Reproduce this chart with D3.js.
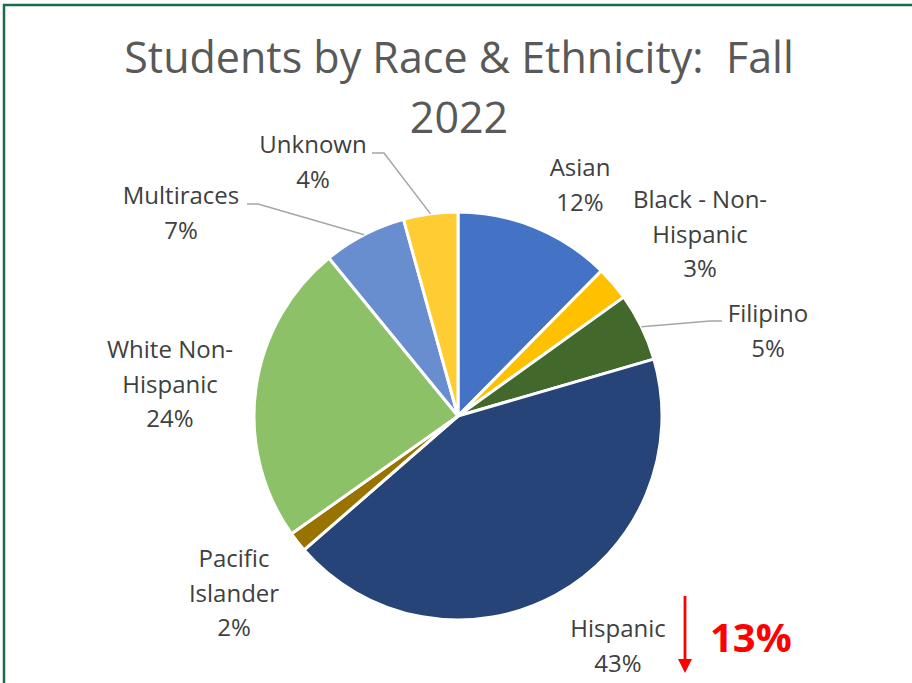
<!DOCTYPE html>
<html>
<head>
<meta charset="utf-8">
<script src="https://cdn.jsdelivr.net/npm/d3@7"></script>
<style>
    body { margin: 0; background: #fff; }
    svg { display: block; }
    text { font-family: "Open Sans", "Noto Sans", sans-serif; white-space: pre; }
</style>
</head>
<body>
<div id="chart"></div>
<script>
'use strict';

// slices clockwise from 12 o'clock
const categories = ['Asian', 'Black - Non-Hispanic', 'Filipino', 'Hispanic',
    'Pacific Islander', 'White Non-Hispanic', 'Multiraces', 'Unknown'];
const labelLines = [['Asian'], ['Black - Non-', 'Hispanic'], ['Filipino'], ['Hispanic'],
    ['Pacific', 'Islander'], ['White Non-', 'Hispanic'], ['Multiraces'], ['Unknown']];
const shares = [12.4, 2.7, 5.4, 43.1, 1.6, 23.9, 6.6, 4.3];
const colors = ['#4472C4', '#FFC000', '#43682B', '#264478', '#997300', '#8CC168', '#698ED0', '#FFCD33'];
const titleLines = ['Students by Race & Ethnicity:  Fall', '2022'];
const changeText = '13%';

// where Excel put each data label (center x, first baseline) and leader bends
const labelPos = [[580, 176], [700, 208], [768, 322], [618, 637],
    [234, 567], [170, 358], [181, 204], [313, 153]];
const leaderEnd = {2: [722, 321, 710], 6: [247, 204, 258], 7: [372, 153, 384]};

const W = 912, H = 683;
const cx = 458, cy = 416, R = 204;

const svg = d3.select('#chart')
    .append('svg')
    .attr('width', W)
    .attr('height', H);

svg.append('rect')
    .attr('width', W)
    .attr('height', H)
    .attr('fill', '#fff');

// green frame (only top and left show in the crop)
svg.append('path')
    .attr('d', `M4,${H} V5 H${W}`)
    .attr('fill', 'none')
    .attr('stroke', '#1B6D4A')
    .attr('stroke-width', 2.5);

// title
svg.append('g')
    .selectAll('text')
    .data(titleLines)
    .enter()
    .append('text')
    .attr('x', 459)
    .attr('y', (d, i) => 73 + i * 60)
    .attr('text-anchor', 'middle')
    .attr('font-size', 43)
    .attr('fill', '#595959')
    .text(d => d);

const pie = d3.pie().sort(null).value(d => d);
const arcs = pie(shares);
const arc = d3.arc().innerRadius(0).outerRadius(R);

const g = svg.append('g').attr('transform', `translate(${cx},${cy})`);

g.selectAll('path')
    .data(arcs)
    .enter()
    .append('path')
    .attr('d', arc)
    .attr('fill', (d, i) => colors[i])
    .attr('stroke', '#fff')
    .attr('stroke-width', 3)
    .attr('stroke-linejoin', 'round');

// leader lines from the slice edge to the label
const edge = d3.arc().innerRadius(R).outerRadius(R);
Object.keys(leaderEnd).forEach(k => {
    const i = +k;
    const [ex, ey, bx] = leaderEnd[k];
    const [px, py] = edge.centroid(arcs[i]);
    svg.append('polyline')
        .attr('points', `${cx + px},${cy + py} ${bx},${ey} ${ex},${ey}`)
        .attr('fill', 'none')
        .attr('stroke', '#A6A6A6')
        .attr('stroke-width', 1.5);
});

// data labels
const labels = svg.append('g')
    .selectAll('text')
    .data(arcs)
    .enter()
    .append('text')
    .attr('text-anchor', 'middle')
    .attr('font-size', 24)
    .attr('fill', '#404040');

labels.each(function(d, i) {
    const lines = labelLines[i].concat([Math.round(d.data) + '%']);
    d3.select(this).selectAll('tspan')
        .data(lines)
        .enter()
        .append('tspan')
        .attr('x', labelPos[i][0])
        .attr('y', (t, j) => labelPos[i][1] + j * 34.5)
        .text(t => t);
});

// red down arrow and change note
svg.append('defs')
    .append('marker')
    .attr('id', 'head')
    .attr('viewBox', '0 0 10 10')
    .attr('refX', 0)
    .attr('refY', 5)
    .attr('markerWidth', 5)
    .attr('markerHeight', 5)
    .attr('orient', 'auto')
    .append('path')
    .attr('d', 'M0,0 L10,5 L0,10 z')
    .attr('fill', '#FF0000');

svg.append('line')
    .attr('x1', 685)
    .attr('y1', 596)
    .attr('x2', 685)
    .attr('y2', 659)
    .attr('stroke', '#FF0000')
    .attr('stroke-width', 2.8)
    .attr('marker-end', 'url(#head)');

svg.append('text')
    .attr('x', 710)
    .attr('y', 652)
    .attr('font-size', 40)
    .attr('font-weight', 'bold')
    .attr('fill', '#FF0000')
    .text(changeText);
</script>
</body>
</html>
